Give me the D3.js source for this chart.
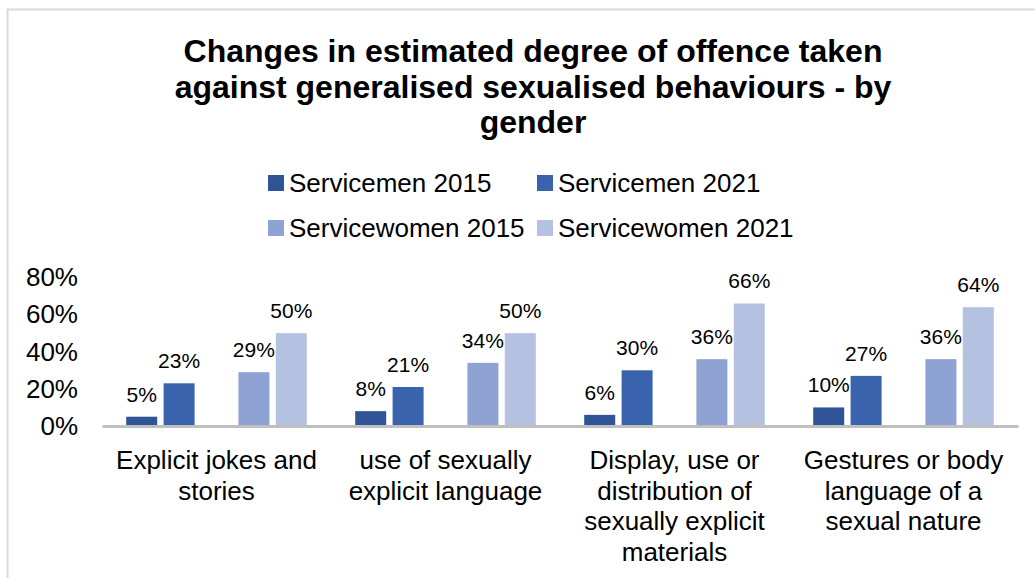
<!DOCTYPE html>
<html>
<head>
<meta charset="utf-8">
<script src="https://cdn.jsdelivr.net/npm/d3@7/dist/d3.min.js"></script>
<style>
  html, body { margin: 0; padding: 0; background: #ffffff; }
  svg { display: block; font-family: "Liberation Sans", Arial, Helvetica, sans-serif; }
</style>
</head>
<body>
<svg id="chart" width="1035" height="578"></svg>
<script>
// Behaviour categories (line breaks mark how each axis label wraps)
const categories = [
  "Explicit jokes and\nstories",
  "use of sexually\nexplicit language",
  "Display, use or\ndistribution of\nsexually explicit\nmaterials",
  "Gestures or body\nlanguage of a\nsexual nature"
];

// Series names and percentage values per category
const seriesNames = ["Servicemen 2015", "Servicemen 2021", "Servicewomen 2015", "Servicewomen 2021"];
const servicemen2015 = [5, 8, 6, 10];
const servicemen2021 = [23, 21, 30, 27];
const servicewomen2015 = [29, 34, 36, 36];
const servicewomen2021 = [50, 50, 66, 64];

// Y axis tick values (percent)
const yTicks = [0, 20, 40, 60, 80];

const titleLines = [
  "Changes in estimated degree of offence taken",
  "against generalised sexualised behaviours - by",
  "gender"
];

const seriesValues = [servicemen2015, servicemen2021, servicewomen2015, servicewomen2021];
const colors = ["#2f5597", "#3a63ad", "#8fa2d4", "#b4c1e1"];
// bar slot within a category group: men pair, gap, women pair
const seriesSlot = [0, 1, 3, 4];

const svg = d3.select("#chart");

// chart frame
svg.append("path")
  .attr("d", "M7.5,578 L7.5,9.5 L1035,9.5")
  .attr("fill", "none")
  .attr("stroke", "#d9d9d9")
  .attr("stroke-width", 2);

// title
svg.append("text")
  .attr("text-anchor", "middle")
  .attr("font-weight", "bold")
  .attr("font-size", 32)
  .attr("fill", "#000")
  .selectAll("tspan")
  .data(titleLines)
  .join("tspan")
  .attr("x", 533)
  .attr("y", (d, i) => 62 + i * 35.5)
  .text(d => d);

// legend (two rows of two)
const legendCols = [268, 537];
const legendRows = [183, 228];
const legend = svg.append("g");
seriesNames.forEach((name, i) => {
  const lx = legendCols[i % 2];
  const ly = legendRows[Math.floor(i / 2)];
  legend.append("rect")
    .attr("x", lx)
    .attr("y", ly - 8)
    .attr("width", 16)
    .attr("height", 16)
    .attr("fill", colors[i]);
  legend.append("text")
    .attr("x", lx + 21)
    .attr("y", ly + 9)
    .attr("font-size", 26)
    .attr("fill", "#000")
    .text(name);
});

// scales
const x0 = d3.scaleBand()
  .domain(categories)
  .range([102, 1018])
  .paddingInner(0)
  .paddingOuter(0);

const slotStep = 37.4;
const slotPad = 0.171;
const slotSpan = slotStep * (5 - slotPad);
const x1 = d3.scaleBand()
  .domain(d3.range(5))
  .range([0, slotSpan])
  .paddingInner(slotPad)
  .paddingOuter(0);
const groupOffset = (x0.bandwidth() - slotSpan) / 2;

const y = d3.scaleLinear()
  .domain([0, 80])
  .range([426, 277.5]);

// y axis labels (no axis line, no gridlines)
const yAxis = svg.append("g")
  .attr("transform", "translate(78,0)")
  .call(d3.axisLeft(y).tickValues(yTicks).tickFormat(d => d + "%").tickSize(0).tickPadding(0));
yAxis.select(".domain").remove();
yAxis.selectAll("text")
  .attr("font-size", 26)
  .attr("font-family", "Liberation Sans, Arial, sans-serif")
  .attr("fill", "#000");

// bars
const rows = categories.map((c, ci) => ({
  cat: c,
  values: seriesValues.map((vals, si) => ({ si, v: vals[ci] }))
}));

const groups = svg.append("g")
  .selectAll("g")
  .data(rows)
  .join("g")
  .attr("transform", d => `translate(${x0(d.cat) + groupOffset},0)`);

groups.selectAll("rect")
  .data(d => d.values)
  .join("rect")
  .attr("x", d => x1(seriesSlot[d.si]))
  .attr("y", d => y(d.v))
  .attr("width", x1.bandwidth())
  .attr("height", d => y(0) - y(d.v))
  .attr("fill", d => colors[d.si]);

// value labels
groups.selectAll("text.val")
  .data(d => d.values)
  .join("text")
  .attr("class", "val")
  .attr("x", d => x1(seriesSlot[d.si]) + x1.bandwidth() / 2)
  .attr("y", d => y(d.v) - 15)
  .attr("text-anchor", "middle")
  .attr("font-size", 21)
  .attr("fill", "#000")
  .text(d => d.v + "%");

// category axis
const xAxis = svg.append("g")
  .attr("transform", `translate(0,${y(0)})`)
  .call(d3.axisBottom(x0).tickSize(0).tickFormat(""));
xAxis.select(".domain")
  .attr("stroke", "#bfbfbf")
  .attr("stroke-width", 3);

// wrapped category labels
svg.append("g")
  .selectAll("text")
  .data(categories)
  .join("text")
  .attr("text-anchor", "middle")
  .attr("font-size", 26)
  .attr("fill", "#000")
  .each(function(d) {
    const cx = x0(d) + x0.bandwidth() / 2;
    d3.select(this).selectAll("tspan")
      .data(d.split("\n"))
      .join("tspan")
      .attr("x", cx)
      .attr("y", (t, i) => 469 + i * 30.5)
      .text(t => t);
  });
</script>
</body>
</html>
